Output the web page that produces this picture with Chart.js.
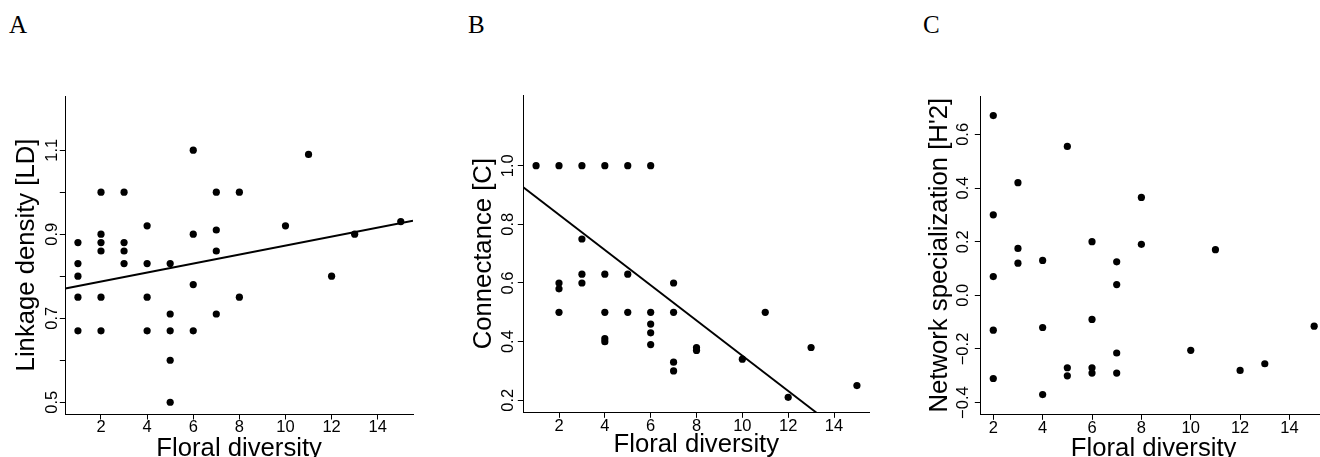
<!DOCTYPE html>
<html>
<head>
<meta charset="utf-8">
<script src="https://cdn.jsdelivr.net/npm/chart.js@4.4.1/dist/chart.umd.min.js"></script>
<style>
  html, body { margin: 0; padding: 0; background: #fff; }
  body { width: 1320px; height: 457px; overflow: hidden; position: relative; }
  .panel { position: absolute; top: 0; }
  .letter { position: absolute; top: 12px; font-family: 'Liberation Serif', serif; font-size: 25px; line-height: 25px; color: #000; }
</style>
</head>
<body>
<div class="letter" style="left:9px">A</div>
<div class="letter" style="left:468px">B</div>
<div class="letter" style="left:923px">C</div>
<canvas id="chartA" class="panel" style="left:0px" width="440" height="457"></canvas>
<canvas id="chartB" class="panel" style="left:440px" width="440" height="457"></canvas>
<canvas id="chartC" class="panel" style="left:880px" width="460" height="457"></canvas>
<script>
// x tick positions shared by the three panels
const xTicks = [2, 4, 6, 8, 10, 12, 14];

// A: linkage density
const floralA = [1, 1, 1, 1, 1, 2, 2, 2, 2, 2, 2, 3, 3, 3, 3, 4, 4, 4, 4, 5, 5, 5, 5, 5,
  6, 6, 6, 6, 7, 7, 7, 7, 8, 8, 10, 11, 12, 13, 15];
const linkageDensity = [0.88, 0.83, 0.80, 0.75, 0.67, 1.00, 0.90, 0.88, 0.86, 0.75, 0.67,
  1.00, 0.88, 0.86, 0.83, 0.92, 0.83, 0.75, 0.67, 0.83, 0.71, 0.67, 0.60, 0.50,
  1.10, 0.90, 0.78, 0.67, 1.00, 0.91, 0.86, 0.71, 1.00, 0.75, 0.92, 1.09, 0.80, 0.90, 0.93];
const fitA = [0.766, 0.0107]; // intercept, slope
const yTicksA = [0.5, 0.6, 0.7, 0.8, 0.9, 1.0, 1.1];
const yLabelsA = ['0.5', '', '0.7', '', '0.9', '', '1.1'];

// B: connectance
const floralB = [1, 2, 2, 2, 2, 3, 3, 3, 3, 4, 4, 4, 4, 4, 5, 5, 5, 6, 6, 6, 6, 6,
  7, 7, 7, 7, 8, 8, 10, 11, 12, 13, 15];
const connectance = [1.0, 1.0, 0.60, 0.58, 0.50, 1.0, 0.75, 0.63, 0.60, 1.0, 0.63, 0.50, 0.41, 0.40,
  1.0, 0.63, 0.50, 1.0, 0.50, 0.46, 0.43, 0.39, 0.60, 0.50, 0.33, 0.30, 0.38, 0.37,
  0.34, 0.50, 0.21, 0.38, 0.25];
const fitB = [0.953, -0.0601];
const yTicksB = [0.2, 0.4, 0.6, 0.8, 1.0];
const yLabelsB = ['0.2', '0.4', '0.6', '0.8', '1.0'];

// C: network specialization
const floralC = [2, 2, 2, 2, 2, 3, 3, 3, 4, 4, 4, 5, 5, 5, 6, 6, 6, 6, 7, 7, 7, 7, 8, 8,
  10, 11, 12, 13, 15];
const specialization = [0.67, 0.30, 0.07, -0.13, -0.31, 0.42, 0.175, 0.12, 0.13, -0.12, -0.37,
  0.555, -0.27, -0.30, 0.20, -0.09, -0.27, -0.29, 0.125, 0.04, -0.215, -0.29, 0.365, 0.19,
  -0.205, 0.17, -0.28, -0.255, -0.115];
const yTicksC = [-0.4, -0.2, 0, 0.2, 0.4, 0.6];
const yLabelsC = ['\u22120.4', '\u22120.2', '0.0', '0.2', '0.4', '0.6'];

Chart.defaults.font.family = "'Liberation Sans', Arial, sans-serif";
Chart.defaults.color = '#000';

function drawPanel(id, p) {
  const datasets = [{
    data: p.x.map((v, i) => ({x: v, y: p.y[i]})),
    backgroundColor: '#000',
    borderWidth: 0,
    pointRadius: 3.6,
    pointHoverRadius: 3.6
  }];
  if (p.fit) {
    datasets.push({
      data: p.xRange.map(v => ({x: v, y: p.fit[0] + p.fit[1] * v})),
      showLine: true,
      borderColor: '#000',
      borderWidth: 1.9,
      pointRadius: 0
    });
  }
  const axisGrid = {display: true, drawOnChartArea: false, drawTicks: true, tickLength: 5.5, color: '#000', lineWidth: 1};
  const axisBorder = {display: true, color: '#000', width: 1};

  new Chart(document.getElementById(id), {
    type: 'scatter',
    data: {datasets},
    options: {
      responsive: false,
      animation: false,
      events: [],
      layout: {padding: {top: p.top, right: p.right, bottom: 0, left: 0}},
      plugins: {legend: {display: false}, tooltip: {enabled: false}},
      scales: {
        x: {
          type: 'linear',
          min: p.xRange[0],
          max: p.xRange[1],
          afterBuildTicks: s => { s.ticks = xTicks.map(v => ({value: v})); },
          afterFit: s => { s.height = p.xAxisH; },
          ticks: {autoSkip: false, maxRotation: 0, font: {size: 16.5}, padding: -1.5, callback: v => String(v)},
          grid: axisGrid,
          border: axisBorder,
          title: {display: true, text: 'Floral diversity', font: {size: 25.7}, padding: {top: 0, bottom: p.xTitlePad}}
        },
        y: {
          type: 'linear',
          min: p.yRange[0],
          max: p.yRange[1],
          afterBuildTicks: s => { s.ticks = p.yTicks.map(v => ({value: v})); },
          afterFit: s => { s.width = p.yAxisW; },
          ticks: {
            autoSkip: false, minRotation: 90, maxRotation: 90, crossAlign: 'center',
            font: {size: 16.5}, padding: p.yTickPad,
            callback: (v, i) => p.yLabels[i]
          },
          grid: axisGrid,
          border: axisBorder,
          title: {display: true, text: p.yTitle, font: {size: 25.7}, padding: {top: p.yTitlePad, bottom: 0}}
        }
      }
    }
  });
}

drawPanel('chartA', {
  x: floralA, y: linkageDensity, fit: fitA,
  xRange: [0.452, 15.53], yRange: [0.472, 1.229],
  yTicks: yTicksA, yLabels: yLabelsA, yTitle: 'Linkage density [LD]',
  top: 96, right: 27, xAxisH: 43, yAxisW: 65.3,
  yTickPad: -4.2, yTitlePad: 11, xTitlePad: -7
});

drawPanel('chartB', {
  x: floralB, y: connectance, fit: fitB,
  xRange: [0.442, 15.54], yRange: [0.159, 1.241],
  yTicks: yTicksB, yLabels: yLabelsB, yTitle: 'Connectance [C]',
  top: 95, right: 10.7, xAxisH: 44.7, yAxisW: 83.3,
  yTickPad: -1.7, yTitlePad: 28.3, xTitlePad: -3.8
});

drawPanel('chartC', {
  x: floralC, y: specialization, fit: null,
  xRange: [1.474, 15.52], yRange: [-0.4435, 0.743],
  yTicks: yTicksC, yLabels: yLabelsC, yTitle: "Network specialization [H'2]",
  top: 96, right: 13, xAxisH: 42.7, yAxisW: 100.3,
  yTickPad: -4.5, yTitlePad: 44.6, xTitlePad: -7
});
</script>
</body>
</html>
